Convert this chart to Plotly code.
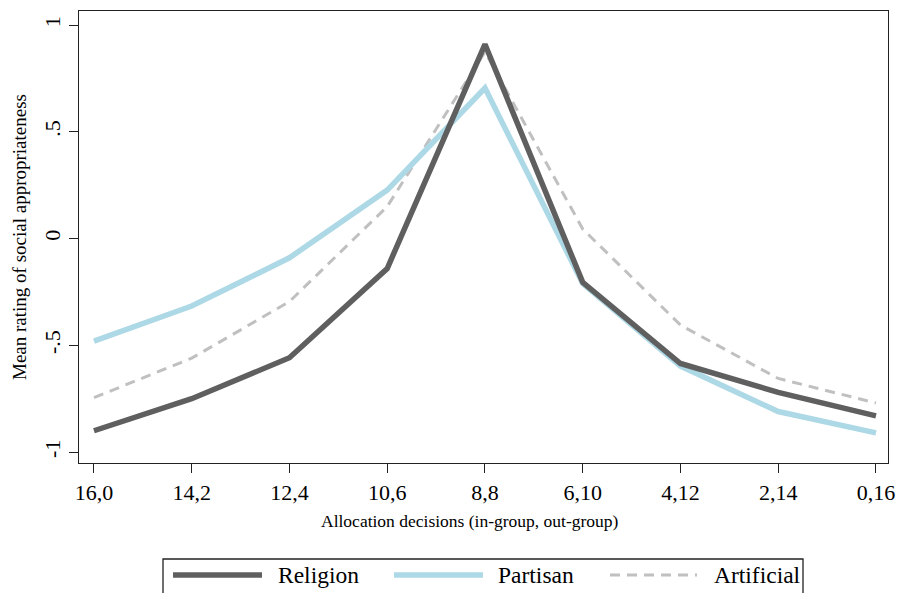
import plotly.graph_objects as go

categories = ["16,0", "14,2", "12,4", "10,6", "8,8", "6,10", "4,12", "2,14", "0,16"]
religion = [-0.90, -0.75, -0.558, -0.14, 0.91, -0.205, -0.585, -0.72, -0.83]
partisan = [-0.48, -0.316, -0.09, 0.227, 0.705, -0.21, -0.597, -0.81, -0.91]
artificial = [-0.745, -0.56, -0.295, 0.15, 0.875, 0.045, -0.405, -0.655, -0.77]
y_tickvals = [-1, -0.5, 0, 0.5, 1]
y_ticktext = ["-1", "-.5", "0", ".5", "1"]

series_names = ["Religion", "Partisan", "Artificial"]
colors = ["#5f5f5f", "#add8e6", "#c0c0c0"]
widths = [5.5, 5.5, 3]
dashes = ["solid", "solid", "10px,7px"]

FONT = "Liberation Serif"

fig = go.Figure()
for name, vals, c, w, d in zip(series_names, [religion, partisan, artificial], colors, widths, dashes):
    fig.add_trace(go.Scatter(x=categories, y=vals, mode="lines", name=name,
                             line=dict(color=c, width=w, dash=d), showlegend=False))

# draw Religion on top, like the reference
fig.data = (fig.data[2], fig.data[1], fig.data[0])

fig.update_layout(
    width=898, height=593,
    margin=dict(l=79, r=10, t=11, b=130),
    paper_bgcolor="white", plot_bgcolor="white",
    font=dict(family=FONT, color="black", size=22),
    xaxis=dict(
        type="category", range=[-0.153, 8.123], automargin=False,
        showline=True, mirror=True, linecolor="#222", linewidth=1.3,
        ticks="outside", ticklen=9, tickcolor="#222", tickwidth=1.2,
        showgrid=False, zeroline=False,
        tickfont=dict(size=22, family=FONT),
    ),
    yaxis=dict(
        range=[-1.051, 1.066], automargin=False,
        tickvals=y_tickvals, ticktext=y_ticktext, tickangle=-90,
        showline=True, mirror=True, linecolor="#222", linewidth=1.3,
        ticks="outside", ticklen=9, tickcolor="#222", tickwidth=1.2,
        showgrid=False, zeroline=False,
        tickfont=dict(size=22, family=FONT),
        title=dict(text="Mean rating of social appropriateness", font=dict(size=19, family=FONT), standoff=8),
    ),
)

def px_x(px):
    return (px - 79) / 809.0

def px_y(py):
    return (463 - py) / 452.0

# x-axis title (slightly left of plot centre, as in the reference)
fig.add_annotation(xref="paper", yref="paper", x=px_x(470), y=px_y(521),
                   text="Allocation decisions (in-group, out-group)", showarrow=False,
                   xanchor="center", yanchor="middle",
                   font=dict(size=17.5, family=FONT, color="black"))

# custom legend box (Stata style, long line samples)
fig.add_shape(type="rect", xref="paper", yref="paper",
              x0=px_x(163), x1=px_x(803), y0=px_y(610), y1=px_y(559),
              line=dict(color="#222", width=1.3), fillcolor="white")
legend_items = [(173, 262, 276), (394, 483, 496), (610, 697, 712)]
ly = px_y(575)
for (x0, x1, tx), name, c, w, d in zip(legend_items, series_names, colors, widths, dashes):
    fig.add_shape(type="line", xref="paper", yref="paper",
                  x0=px_x(x0), x1=px_x(x1), y0=ly, y1=ly,
                  line=dict(color=c, width=w, dash=d))
    fig.add_annotation(xref="paper", yref="paper", x=px_x(tx), y=ly,
                       text=name, showarrow=False, xanchor="left", yanchor="middle",
                       font=dict(size=23.5, family=FONT, color="black"))

fig.write_html("out.html", config={"displayModeBar": False},
               post_script="document.body.style.margin='0';document.body.style.overflow='hidden';")
